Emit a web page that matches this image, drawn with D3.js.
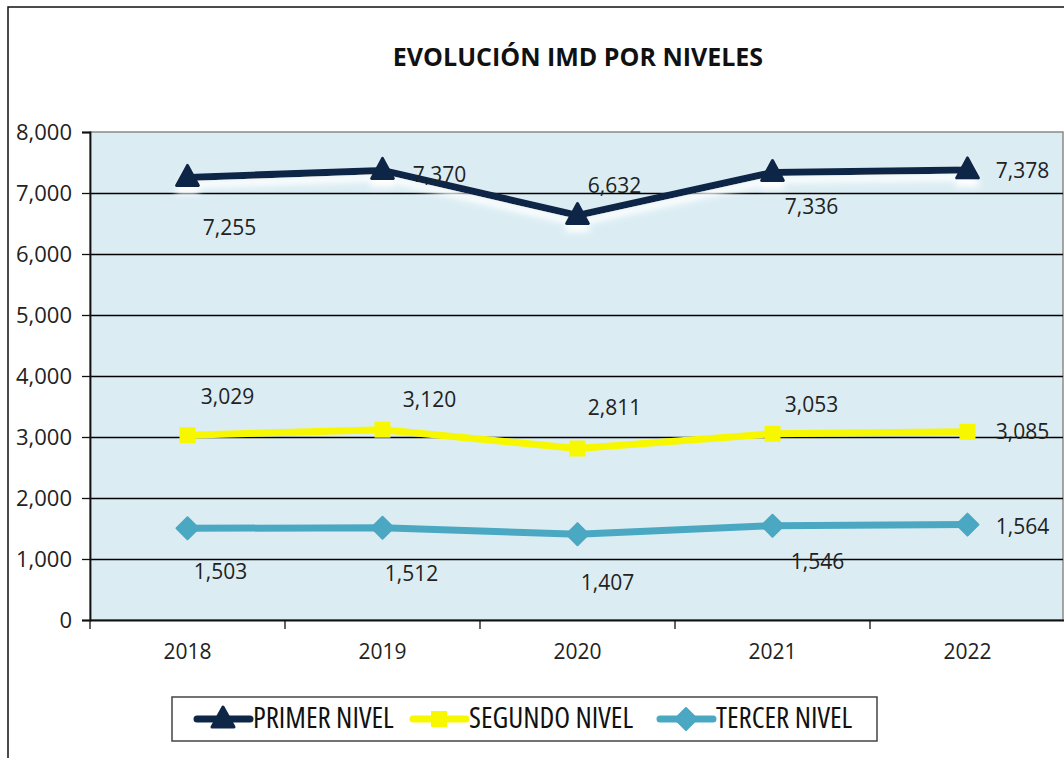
<!DOCTYPE html>
<html>
<head>
<meta charset="utf-8">
<script src="https://cdn.jsdelivr.net/npm/d3@7"></script>
<style>
  body { margin: 0; background: #fff; }
  text { font-family: "Open Sans", "Liberation Sans", sans-serif; }
</style>
</head>
<body>
<script>
// data
var years = ["2018", "2019", "2020", "2021", "2022"];
var primer = [7255, 7370, 6632, 7336, 7378];
var segundo = [3029, 3120, 2811, 3053, 3085];
var tercer = [1503, 1512, 1407, 1546, 1564];
var yTicks = [0, 1000, 2000, 3000, 4000, 5000, 6000, 7000, 8000];
var seriesNames = ["PRIMER NIVEL", "SEGUNDO NIVEL", "TERCER NIVEL"];

// label offsets (px) - excel put them all over the place
var primerOff = [[42, 52], [57, 6], [37, -28], [39, 36], [55, 2]];
var segundoOff = [[40, -37], [47, -28], [37, -39], [39, -27], [55, 2]];
var tercerOff = [[33, 45], [29, 48], [30, 50], [45, 38], [55, 4]];

var W = 1064, H = 758;
var svg = d3.select("body").append("svg")
  .attr("width", W)
  .attr("height", H);

var defs = svg.append("defs");
var f = defs.append("filter").attr("id", "glow")
  .attr("x", "-10%").attr("y", "-50%").attr("width", "120%").attr("height", "300%");
f.append("feGaussianBlur").attr("in", "SourceAlpha").attr("stdDeviation", 3).attr("result", "b");
f.append("feOffset").attr("in", "b").attr("dy", 7).attr("result", "o");
f.append("feFlood").attr("flood-color", "#ffffff").attr("result", "c");
f.append("feComposite").attr("in", "c").attr("in2", "o").attr("operator", "in").attr("result", "s");
var fm = f.append("feMerge");
fm.append("feMergeNode").attr("in", "s");
fm.append("feMergeNode").attr("in", "SourceGraphic");

// outer chart border
svg.append("rect")
  .attr("x", 8).attr("y", 7)
  .attr("width", 1060).attr("height", 760)
  .attr("fill", "none").attr("stroke", "#111").attr("stroke-width", 1.5);

svg.append("text")
  .attr("x", 578).attr("y", 66)
  .attr("text-anchor", "middle")
  .attr("font-size", 25).attr("font-weight", "bold")
  .attr("fill", "#111")
  .text("EVOLUCIÓN IMD POR NIVELES");

var pLeft = 90, pRight = 1063, pTop = 132, pBottom = 620;

var x = d3.scaleBand().domain(years).range([pLeft, pRight + 2]);
var y = d3.scaleLinear().domain([0, 8000]).range([pBottom, pTop]);

svg.append("rect")
  .attr("x", pLeft).attr("y", pTop)
  .attr("width", pRight - pLeft).attr("height", pBottom - pTop)
  .attr("fill", "#dbedf3")
  .attr("stroke", "#8a8a8a").attr("stroke-width", 1.5);

// gridlines
svg.append("g")
  .selectAll("line")
  .data(yTicks.filter(function(d){ return d > 0 && d < 8000; }))
  .enter().append("line")
  .attr("x1", pLeft).attr("x2", pRight)
  .attr("y1", function(d){ return Math.round(y(d)) + 0.5; })
  .attr("y2", function(d){ return Math.round(y(d)) + 0.5; })
  .attr("stroke", "#000").attr("stroke-width", 1.3);

var yAxis = svg.append("g")
  .attr("transform", "translate(" + pLeft + ",0)")
  .call(d3.axisLeft(y).tickValues(yTicks).tickSize(8).tickPadding(10)
    .tickFormat(d3.format(",")));
yAxis.select(".domain").attr("stroke", "#111").attr("stroke-width", 1.8);
yAxis.selectAll(".tick line").attr("stroke", "#111").attr("stroke-width", 1.3);
yAxis.selectAll("text").attr("fill", "#222")
  .attr("font-family", "'Open Sans', sans-serif").attr("font-size", 22);

var xAxis = svg.append("g")
  .attr("transform", "translate(0," + pBottom + ")")
  .call(d3.axisBottom(x).tickSize(0).tickPadding(24));
xAxis.select(".domain").attr("stroke", "#111").attr("stroke-width", 1.8);
xAxis.selectAll("text").attr("fill", "#222")
  .attr("font-family", "'Open Sans', sans-serif").attr("font-size", 21);
// ticks between categories
xAxis.selectAll("line.sep")
  .data(years.concat(["end"]))
  .enter().append("line")
  .attr("class", "sep")
  .attr("x1", function(d, i){ return pLeft + i * x.step(); })
  .attr("x2", function(d, i){ return pLeft + i * x.step(); })
  .attr("y1", 0).attr("y2", 9)
  .attr("stroke", "#111").attr("stroke-width", 1.3);

var series = [
  {name: seriesNames[0], vals: primer, off: primerOff, color: "#0f2747", shape: "tri", glow: true},
  {name: seriesNames[1], vals: segundo, off: segundoOff, color: "#f7f700", shape: "sq", glow: false},
  {name: seriesNames[2], vals: tercer, off: tercerOff, color: "#4aa8c3", shape: "dia", glow: false}
];

function cx(i){ return x(years[i]) + x.bandwidth() / 2; }

function marker(g, shape, color, px, py) {
  if (shape == "tri") {
    g.append("path")
      .attr("d", "M" + px + "," + (py - 12) + "L" + (px + 11) + "," + (py + 8) + "L" + (px - 11) + "," + (py + 8) + "Z")
      .attr("fill", color).attr("stroke", color).attr("stroke-width", 3).attr("stroke-linejoin", "round");
  } else if (shape == "sq") {
    g.append("rect")
      .attr("x", px - 8).attr("y", py - 8).attr("width", 16).attr("height", 16)
      .attr("fill", color);
  } else {
    g.append("path")
      .attr("d", "M" + px + "," + (py - 11) + "L" + (px + 11) + "," + py + "L" + px + "," + (py + 11) + "L" + (px - 11) + "," + py + "Z")
      .attr("fill", color).attr("stroke", color).attr("stroke-width", 2).attr("stroke-linejoin", "round");
  }
}

var line = d3.line()
  .x(function(d, i){ return cx(i); })
  .y(function(d){ return y(d); });

series.forEach(function(s) {
  var g = svg.append("g");
  if (s.glow) g.attr("filter", "url(#glow)");
  g.append("path")
    .datum(s.vals)
    .attr("d", line)
    .attr("fill", "none")
    .attr("stroke", s.color)
    .attr("stroke-width", 7)
    .attr("stroke-linejoin", "round");
  s.vals.forEach(function(v, i) {
    marker(g, s.shape, s.color, cx(i), y(v));
  });
});

// data labels
series.forEach(function(s) {
  svg.append("g")
    .selectAll("text")
    .data(s.vals)
    .enter().append("text")
    .attr("x", function(d, i){ return cx(i) + s.off[i][0]; })
    .attr("y", function(d, i){ return y(d) + s.off[i][1]; })
    .attr("text-anchor", "middle")
    .attr("dominant-baseline", "middle")
    .attr("font-family", "'Open Sans', sans-serif")
    .attr("font-size", 21)
    .attr("fill", "#222")
    .text(function(d){ return d3.format(",")(d); });
});

// legend
var lg = svg.append("g");
lg.append("rect")
  .attr("x", 172).attr("y", 697).attr("width", 705).attr("height", 44)
  .attr("fill", "#fff").attr("stroke", "#444").attr("stroke-width", 1.5);
var legX = [197, 413, 660];
series.forEach(function(s, i) {
  var gx = legX[i], gy = 719;
  lg.append("line")
    .attr("x1", gx).attr("x2", gx + 53)
    .attr("y1", gy).attr("y2", gy)
    .attr("stroke", s.color).attr("stroke-width", 7).attr("stroke-linecap", "round");
  marker(lg, s.shape, s.color, gx + 26, gy);
  lg.append("text")
    .attr("x", gx + 56).attr("y", gy + 1)
    .attr("dominant-baseline", "middle")
    .attr("font-size", 29)
    .attr("font-stretch", "condensed")
    .attr("fill", "#111")
    .text(s.name);
});
</script>
</body>
</html>
